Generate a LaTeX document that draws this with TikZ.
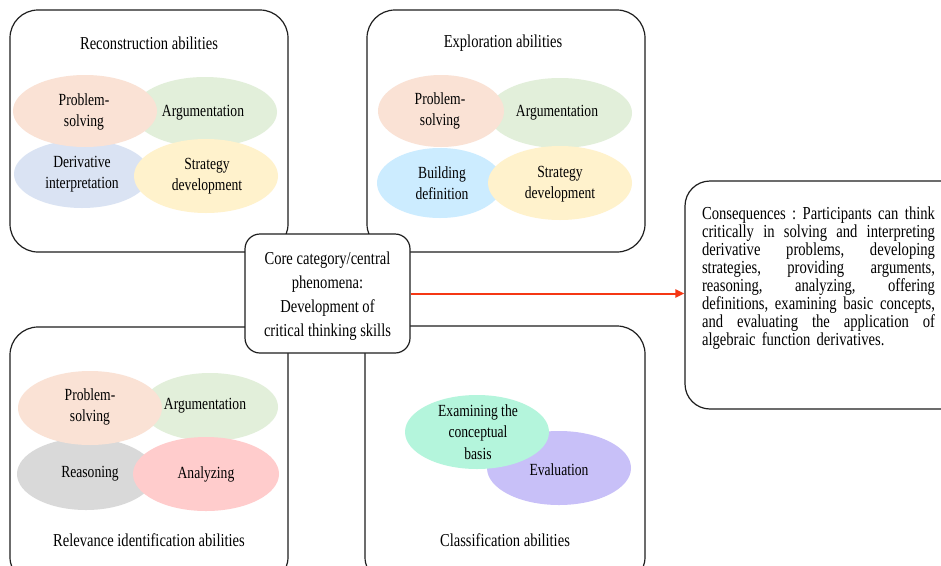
\documentclass[tikz,border=0pt]{standalone}
\usepackage{fontspec}
\setmainfont{Liberation Serif}[FakeStretch=0.8]
\usetikzlibrary{arrows.meta,shapes.geometric}
\definecolor{peach}{RGB}{250,226,213}
\definecolor{lgreen}{RGB}{226,239,218}
\definecolor{lblue}{RGB}{218,227,243}
\definecolor{lyellow}{RGB}{255,242,204}
\definecolor{skyblue}{RGB}{204,236,255}
\definecolor{lgray}{RGB}{217,217,217}
\definecolor{lred}{RGB}{255,204,204}
\definecolor{mint}{RGB}{180,245,220}
\definecolor{lavender}{RGB}{200,192,248}
\definecolor{arrowred}{RGB}{245,55,20}
\definecolor{edge}{RGB}{30,30,30}
\newcommand{\jline}[1]{\makebox[233pt][l]{#1}}
\tikzset{
  groupbox/.style={draw=edge, line width=1.2pt, rounded corners=28pt, fill=white, inner sep=0pt},
  ell/.style={ellipse, draw=none, inner sep=0pt},
  lbl/.style={align=center, font=\fontsize{17}{21.5}\selectfont, inner sep=0pt},
  ttl/.style={font=\fontsize{18.2}{20}\selectfont, inner sep=0pt},
}
\begin{document}
\begin{tikzpicture}[x=1pt,y=-1pt]
\clip (0,0) rectangle (941,565);
\fill[white] (0,0) rectangle (941,565);

% group boxes
\node[groupbox, minimum width=278pt, minimum height=242pt] (boxTL) at (149,131) {};
\node[groupbox, minimum width=278pt, minimum height=242pt] (boxTR) at (506,131) {};
\node[groupbox, minimum width=278pt, minimum height=258pt] (boxBL) at (149,456) {};
\node[groupbox, minimum width=280pt, minimum height=259pt] (boxBR) at (505,455.5) {};

% top-left: Reconstruction
\node[ell, fill=lgreen, minimum width=144pt, minimum height=70pt] (tlA) at (205,112) {};
\node[ell, fill=lblue, minimum width=136pt, minimum height=68pt] (tlD) at (82,174) {};
\node[ell, fill=peach, minimum width=144pt, minimum height=72pt] (tlP) at (85,111) {};
\node[ell, fill=lyellow, minimum width=144pt, minimum height=74pt] (tlS) at (206,176) {};
\node[ttl] (tlT) at (149,43) {Reconstruction abilities};
\node[lbl] (tlPt) at (84,112) {Problem-\\solving};
\node[lbl] (tlAt) at (203,113) {Argumentation};
\node[lbl] (tlDt) at (82,174) {Derivative\\interpretation};
\node[lbl] (tlSt) at (207,176) {Strategy\\development};

% top-right: Exploration
\node[ell, fill=lgreen, minimum width=144pt, minimum height=70pt] (trA) at (560,113) {};
\node[ell, fill=skyblue, minimum width=126pt, minimum height=70pt] (trB) at (440,183) {};
\node[ell, fill=peach, minimum width=126pt, minimum height=72pt] (trP) at (441,111) {};
\node[ell, fill=lyellow, minimum width=144pt, minimum height=74pt] (trS) at (560,183) {};
\node[ttl] (trT) at (503,43) {Exploration abilities};
\node[lbl] (trPt) at (440,111) {Problem-\\solving};
\node[lbl] (trAt) at (557,113) {Argumentation};
\node[lbl] (trBt) at (442,183) {Building\\definition};
\node[lbl] (trSt) at (560,184) {Strategy\\development};

% bottom-left: Relevance identification
\node[ell, fill=lgreen, minimum width=136pt, minimum height=68pt] (blA) at (210,407) {};
\node[ell, fill=lgray, minimum width=138pt, minimum height=72pt] (blR) at (86,474) {};
\node[ell, fill=peach, minimum width=144pt, minimum height=74pt] (blP) at (90,408) {};
\node[ell, fill=lred, minimum width=146pt, minimum height=74pt] (blN) at (206,474) {};
\node[ttl] (blT) at (149,540) {Relevance identification abilities};
\node[lbl] (blPt) at (90,407) {Problem-\\solving};
\node[lbl] (blAt) at (205,406) {Argumentation};
\node[lbl] (blRt) at (90,474) {Reasoning};
\node[lbl] (blNt) at (206,474) {Analyzing};

% bottom-right: Classification
\node[ell, fill=lavender, minimum width=144pt, minimum height=74pt] (brV) at (559,468) {};
\node[ell, fill=mint, minimum width=144pt, minimum height=74pt] (brE) at (477,432) {};
\node[ttl] (brT) at (505,540) {Classification abilities};
\node[lbl] (brEt) at (478,432) {Examining the\\conceptual\\basis};
\node[lbl] (brVt) at (559,470) {Evaluation};

% centre
\node[draw=edge, line width=1.2pt, rounded corners=15pt, fill=white, inner sep=0pt,
      minimum width=165pt, minimum height=119pt] (core) at (327.5,293.5) {};
\node[align=center, font=\fontsize{18.2}{24}\selectfont, inner sep=0pt] (coreT) at (327.5,296)
  {Core category/central\\phenomena:\\Development of\\critical thinking skills};

% consequences
\node[draw=edge, line width=1.2pt, rounded corners=25pt, fill=white, inner sep=0pt,
      minimum width=280pt, minimum height=228pt] (cons) at (825,295) {};
\node[text width=233pt, align=left, font=\fontsize{18.3}{18}\selectfont, inner sep=0pt] (consT) at (818.5,278)
  {\jline{Consequences\hfill :\hfill Participants\hfill can\hfill think}\\
   \jline{critically\hfill in\hfill solving\hfill and\hfill interpreting}\\
   \jline{derivative\hfill problems,\hfill developing}\\
   \jline{strategies,\hfill providing\hfill arguments,}\\
   \jline{reasoning,\hfill analyzing,\hfill offering}\\
   \jline{definitions,\hfill examining\hfill basic\hfill concepts,}\\
   \jline{and\hfill evaluating\hfill the\hfill application\hfill of}\\
   algebraic function derivatives.};

\draw[arrowred, line width=2pt, -{Triangle[length=9pt,width=8pt]}] (core.east) -- (core.east -| cons.west);
\end{tikzpicture}
\end{document}
